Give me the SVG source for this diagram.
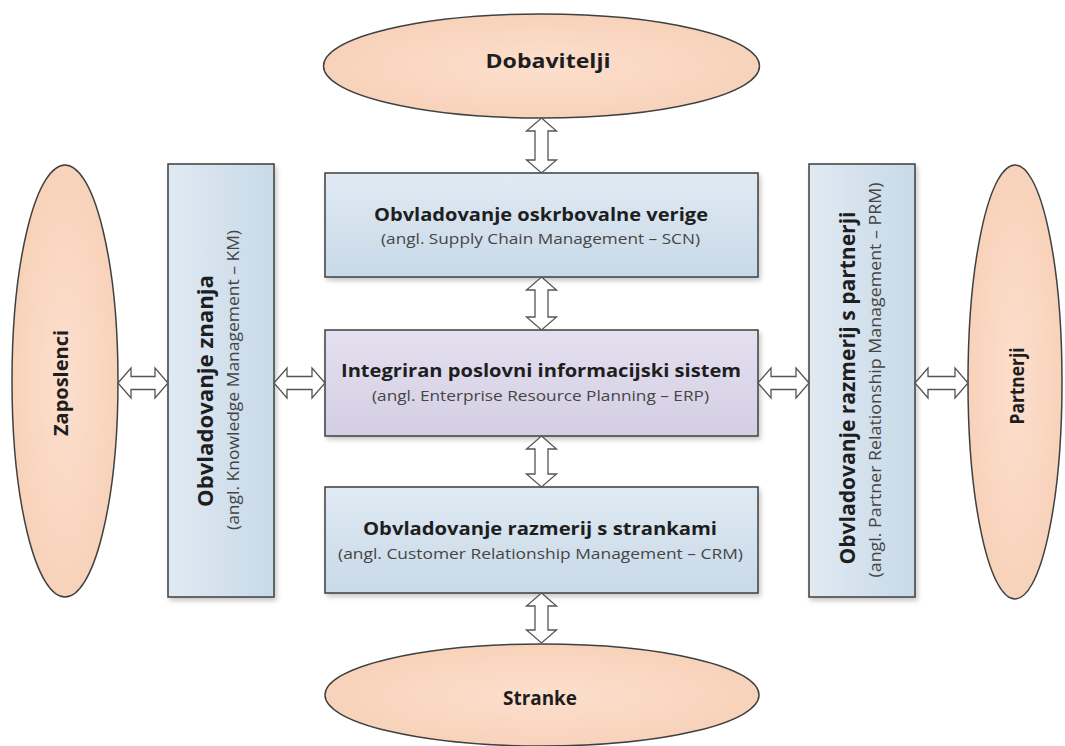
<svg xmlns="http://www.w3.org/2000/svg" width="1065" height="746" viewBox="0 0 1065 746">
  <defs>
    <linearGradient id="gBlueV" x1="0" y1="0" x2="0" y2="1">
      <stop offset="0" stop-color="#e0eaf3"/>
      <stop offset="1" stop-color="#c8d9e8"/>
    </linearGradient>
    <linearGradient id="gBlueH" x1="0" y1="0" x2="1" y2="0">
      <stop offset="0" stop-color="#e0eaf3"/>
      <stop offset="1" stop-color="#c8d9e8"/>
    </linearGradient>
    <linearGradient id="gLilac" x1="0" y1="0" x2="0" y2="1">
      <stop offset="0" stop-color="#e4e0ef"/>
      <stop offset="1" stop-color="#d3cee3"/>
    </linearGradient>
    <radialGradient id="gPeach" cx="0.5" cy="0.5" r="0.6">
      <stop offset="0" stop-color="#fcdfcd"/>
      <stop offset="1" stop-color="#f7d0b7"/>
    </radialGradient>
    <filter id="shadow" x="-10%" y="-10%" width="130%" height="130%">
      <feGaussianBlur in="SourceAlpha" stdDeviation="2.5"/>
      <feOffset dx="2" dy="3" result="b"/>
      <feComponentTransfer><feFuncA type="linear" slope="0.22"/></feComponentTransfer>
      <feMerge><feMergeNode/><feMergeNode in="SourceGraphic"/></feMerge>
    </filter>
  </defs>
  <style>
    .box { stroke: #3f3f3f; stroke-width: 1.5; filter: url(#shadow); }
    .oval { fill: url(#gPeach); stroke: #404040; stroke-width: 1.5; }
    .title { font-family: "Open Sans", "Liberation Sans", sans-serif; font-weight: bold; fill: #1e1e1e; text-anchor: middle; }
    .sub { font-family: "Open Sans", "Liberation Sans", sans-serif; fill: #454545; text-anchor: middle; }
    .arrow { fill: #ffffff; stroke: #555555; stroke-width: 1.3; stroke-linejoin: miter; }
  </style>

  <rect width="1065" height="746" fill="#ffffff"/>

  <!-- outer parties -->
  <g id="dobavitelji">
    <ellipse class="oval" cx="541.5" cy="66" rx="218" ry="52"/>
    <text class="title" x="548" y="68" font-size="19" textLength="125" lengthAdjust="spacingAndGlyphs">Dobavitelji</text>
  </g>
  <g id="stranke">
    <ellipse class="oval" cx="542" cy="695" rx="217" ry="51"/>
    <text class="title" x="540" y="705" font-size="19" textLength="74" lengthAdjust="spacingAndGlyphs">Stranke</text>
  </g>
  <g id="zaposlenci">
    <ellipse class="oval" cx="65" cy="381" rx="53" ry="216"/>
    <text class="title" transform="translate(68 383) rotate(-90)" font-size="20" textLength="106" lengthAdjust="spacingAndGlyphs">Zaposlenci</text>
  </g>
  <g id="partnerji">
    <ellipse class="oval" cx="1015" cy="382" rx="47" ry="217"/>
    <text class="title" transform="translate(1024 386) rotate(-90)" font-size="20" textLength="77" lengthAdjust="spacingAndGlyphs">Partnerji</text>
  </g>

  <!-- management systems -->
  <g id="scm">
    <rect class="box" x="325" y="173" width="433" height="104" fill="url(#gBlueV)"/>
    <text class="title" x="541" y="221" font-size="18" textLength="334" lengthAdjust="spacingAndGlyphs">Obvladovanje oskrbovalne verige</text>
    <text class="sub" x="540.5" y="244" font-size="15" textLength="319" lengthAdjust="spacingAndGlyphs">(angl. Supply Chain Management – SCN)</text>
  </g>
  <g id="erp">
    <rect class="box" x="325" y="330" width="433" height="106" fill="url(#gLilac)"/>
    <text class="title" x="541" y="377" font-size="18" textLength="400" lengthAdjust="spacingAndGlyphs">Integriran poslovni informacijski sistem</text>
    <text class="sub" x="540.5" y="401" font-size="15" textLength="337" lengthAdjust="spacingAndGlyphs">(angl. Enterprise Resource Planning – ERP)</text>
  </g>
  <g id="crm">
    <rect class="box" x="325" y="487" width="433" height="106" fill="url(#gBlueV)"/>
    <text class="title" x="540" y="535" font-size="18" textLength="354" lengthAdjust="spacingAndGlyphs">Obvladovanje razmerij s strankami</text>
    <text class="sub" x="540.5" y="559" font-size="15" textLength="405" lengthAdjust="spacingAndGlyphs">(angl. Customer Relationship Management – CRM)</text>
  </g>
  <g id="km">
    <rect class="box" x="168" y="164" width="106" height="433" fill="url(#gBlueH)"/>
    <text class="title" transform="translate(213 391) rotate(-90)" font-size="21" textLength="232" lengthAdjust="spacingAndGlyphs">Obvladovanje znanja</text>
    <text class="sub" transform="translate(239 380) rotate(-90)" font-size="17" textLength="300" lengthAdjust="spacingAndGlyphs">(angl. Knowledge Management – KM)</text>
  </g>
  <g id="prm">
    <rect class="box" x="809" y="164" width="106" height="433" fill="url(#gBlueH)"/>
    <text class="title" transform="translate(855 388) rotate(-90)" font-size="21" textLength="353" lengthAdjust="spacingAndGlyphs">Obvladovanje razmerij s partnerji</text>
    <text class="sub" transform="translate(881 380) rotate(-90)" font-size="17" textLength="395" lengthAdjust="spacingAndGlyphs">(angl. Partner Relationship Management – PRM)</text>
  </g>

  <!-- two-way block arrows -->
  <g id="connectors">
    <!-- vertical: x centre 541.5, head half-width 15, shaft half-width 6.5, head length 13 -->
    <path class="arrow" d="M541.5 118 L556.5 131 L548 131 L548 160 L556.5 160 L541.5 173 L526.5 160 L535 160 L535 131 L526.5 131 Z"/>
    <path class="arrow" d="M541.5 277 L556.5 290 L548 290 L548 317 L556.5 317 L541.5 330 L526.5 317 L535 317 L535 290 L526.5 290 Z"/>
    <path class="arrow" d="M541.5 436 L556.5 449 L548 449 L548 474 L556.5 474 L541.5 487 L526.5 474 L535 474 L535 449 L526.5 449 Z"/>
    <path class="arrow" d="M541.5 593 L556.5 606 L548 606 L548 630 L556.5 630 L541.5 643 L526.5 630 L535 630 L535 606 L526.5 606 Z"/>
    <!-- horizontal: y centre 383 -->
    <path class="arrow" d="M118 383 L131 368 L131 376.5 L155 376.5 L155 368 L168 383 L155 398 L155 389.5 L131 389.5 L131 398 Z"/>
    <path class="arrow" d="M274 383 L287 368 L287 376.5 L312 376.5 L312 368 L325 383 L312 398 L312 389.5 L287 389.5 L287 398 Z"/>
    <path class="arrow" d="M758 383 L771 368 L771 376.5 L796 376.5 L796 368 L809 383 L796 398 L796 389.5 L771 389.5 L771 398 Z"/>
    <path class="arrow" d="M915 383 L928 368 L928 376.5 L955 376.5 L955 368 L968 383 L955 398 L955 389.5 L928 389.5 L928 398 Z"/>
  </g>
</svg>
